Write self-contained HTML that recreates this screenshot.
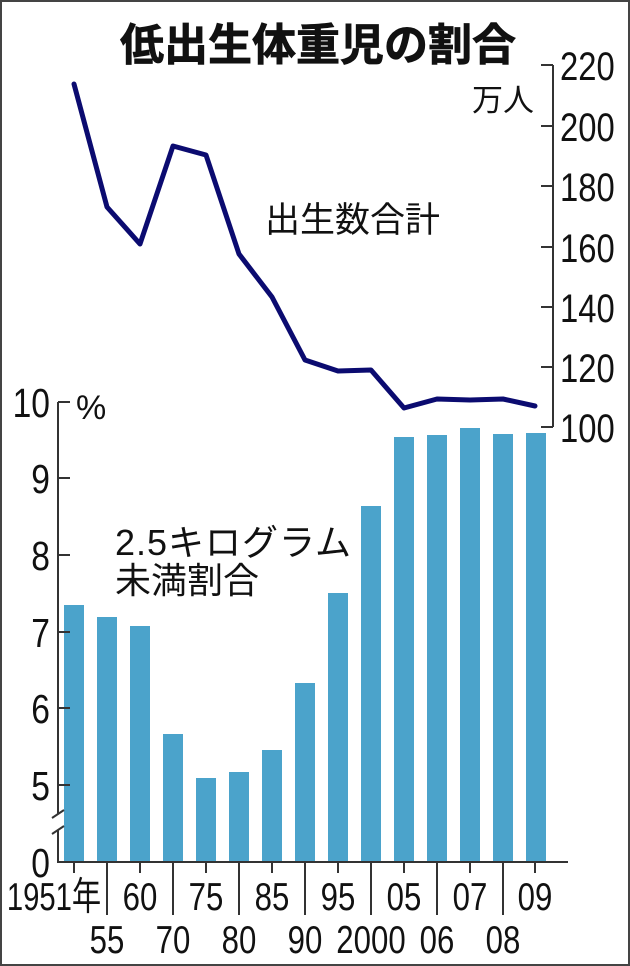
<!DOCTYPE html>
<html><head><meta charset="utf-8"><style>
html,body{margin:0;padding:0;background:#fff}
svg{display:block}
text{font-family:"Liberation Sans","Noto Sans CJK JP",sans-serif;fill:#111}
</style></head><body>
<svg width="630" height="966" viewBox="0 0 630 966" xmlns="http://www.w3.org/2000/svg">
<rect x="1" y="1" width="628" height="964" fill="#fff" stroke="#444" stroke-width="2"/>
<text x="318" y="60" font-size="44" font-weight="bold" text-anchor="middle" style="stroke:#111;stroke-width:0.8">低出生体重児の割合</text>
<g fill="#4ba3cb">
<rect x="64" y="605" width="20" height="257"/>
<rect x="97" y="617" width="20" height="245"/>
<rect x="130" y="626" width="20" height="236"/>
<rect x="163" y="734" width="20" height="128"/>
<rect x="196" y="778" width="20" height="84"/>
<rect x="229" y="772" width="20" height="90"/>
<rect x="262" y="750" width="20" height="112"/>
<rect x="295" y="683" width="20" height="179"/>
<rect x="328" y="593" width="20" height="269"/>
<rect x="361" y="506" width="20" height="356"/>
<rect x="394" y="437" width="20" height="425"/>
<rect x="427" y="435" width="20" height="427"/>
<rect x="460" y="428" width="20" height="434"/>
<rect x="493" y="434" width="20" height="428"/>
<rect x="526" y="433" width="20" height="429"/>
</g>
<polyline fill="none" stroke="#0b0b70" stroke-width="5" stroke-linejoin="round" stroke-linecap="round"
points="74,84 107,207 140,244 173,146 206,155 239,254 272,297 305,360 338,371 371,370 404,408 437,399 470,400 503,399 535,406"/>
<g stroke="#333" stroke-width="2" fill="none">
<path d="M58,402 V814 M58,830 V862 H568"/>
<path d="M52,818 L64,810 M52,834 L64,826"/>
<path d="M58,402 H70 M58,478 H70 M58,555 H70 M58,632 H70 M58,708 H70 M58,785 H70"/>
<path d="M553,65 V427 M541,65 H553 M541,126 H553 M541,186 H553 M541,247 H553 M541,307 H553 M541,367 H553 M541,427 H553"/>
<path d="M74,862 V873 M140,862 V873 M206,862 V873 M272,862 V873 M338,862 V873 M404,862 V873 M470,862 V873 M535,862 V873"/>
<path d="M107,862 V915 M173,862 V915 M239,862 V915 M305,862 V915 M371,862 V915 M437,862 V915 M503,862 V915"/>
</g>
<g font-size="41" text-anchor="end">
<text x="50" y="417" transform="translate(50 0) scale(0.82 1) translate(-50 0)">10</text>
<text x="50" y="493" transform="translate(50 0) scale(0.82 1) translate(-50 0)">9</text>
<text x="50" y="570" transform="translate(50 0) scale(0.82 1) translate(-50 0)">8</text>
<text x="50" y="647" transform="translate(50 0) scale(0.82 1) translate(-50 0)">7</text>
<text x="50" y="723" transform="translate(50 0) scale(0.82 1) translate(-50 0)">6</text>
<text x="50" y="800" transform="translate(50 0) scale(0.82 1) translate(-50 0)">5</text>
<text x="50" y="877" transform="translate(50 0) scale(0.82 1) translate(-50 0)">0</text>
</g>
<g font-size="40" transform="translate(560 0) scale(0.82 1) translate(-560 0)">
<text x="560" y="80">220</text>
<text x="560" y="141">200</text>
<text x="560" y="201">180</text>
<text x="560" y="262">160</text>
<text x="560" y="322">140</text>
<text x="560" y="382">120</text>
<text x="560" y="442">100</text>
</g>
<text x="76" y="419" font-size="34">%</text>
<text x="472" y="111" font-size="31">万人</text>
<text x="265" y="232" font-size="35">出生数合計</text>
<text x="115" y="555" font-size="36" letter-spacing="1">2.5キログラム</text>
<text x="115" y="593" font-size="36">未満割合</text>
<g font-size="39" text-anchor="middle">
<text x="54" y="910" transform="translate(54 0) scale(0.75 1) translate(-54 0)">1951年</text>
<text x="140" y="910" transform="translate(140 0) scale(0.8 1) translate(-140 0)">60</text>
<text x="206" y="910" transform="translate(206 0) scale(0.8 1) translate(-206 0)">75</text>
<text x="272" y="910" transform="translate(272 0) scale(0.8 1) translate(-272 0)">85</text>
<text x="338" y="910" transform="translate(338 0) scale(0.8 1) translate(-338 0)">95</text>
<text x="404" y="910" transform="translate(404 0) scale(0.8 1) translate(-404 0)">05</text>
<text x="470" y="910" transform="translate(470 0) scale(0.8 1) translate(-470 0)">07</text>
<text x="535" y="910" transform="translate(535 0) scale(0.8 1) translate(-535 0)">09</text>
<text x="107" y="953" transform="translate(107 0) scale(0.8 1) translate(-107 0)">55</text>
<text x="173" y="953" transform="translate(173 0) scale(0.8 1) translate(-173 0)">70</text>
<text x="239" y="953" transform="translate(239 0) scale(0.8 1) translate(-239 0)">80</text>
<text x="305" y="953" transform="translate(305 0) scale(0.8 1) translate(-305 0)">90</text>
<text x="371" y="953" transform="translate(371 0) scale(0.8 1) translate(-371 0)">2000</text>
<text x="437" y="953" transform="translate(437 0) scale(0.8 1) translate(-437 0)">06</text>
<text x="503" y="953" transform="translate(503 0) scale(0.8 1) translate(-503 0)">08</text>
</g>
</svg>
</body></html>
